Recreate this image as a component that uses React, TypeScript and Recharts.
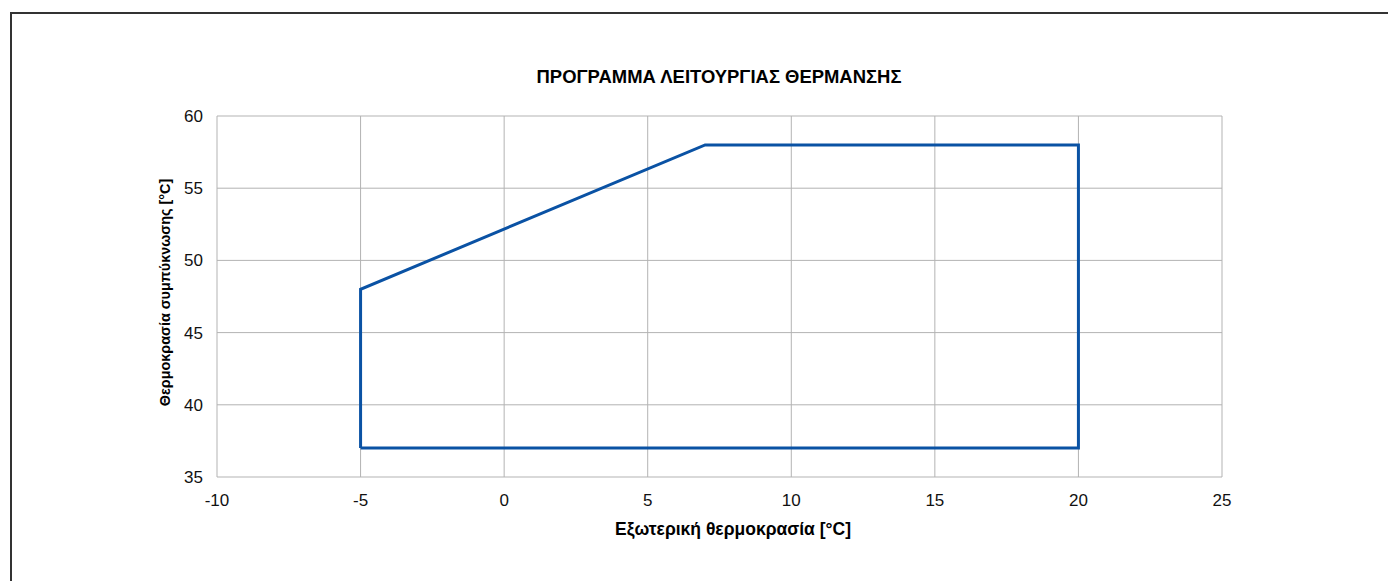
import React from 'react';
import { LineChart, Line, XAxis, YAxis, CartesianGrid } from 'recharts';

// operating envelope (closed polygon)
const outdoorTemp = [-5, -5, 7, 20, 20, -5];
const condensingTemp = [37, 48, 58, 58, 37, 37];

const xTicks = [-10, -5, 0, 5, 10, 15, 20, 25];
const yTicks = [35, 40, 45, 50, 55, 60];

const title = 'ΠΡΟΓΡΑΜΜΑ ΛΕΙΤΟΥΡΓΙΑΣ ΘΕΡΜΑΝΣΗΣ';
const xLabel = 'Εξωτερική θερμοκρασία [°C]';
const yLabel = 'Θερμοκρασία συμπύκνωσης [°C]';

const data = outdoorTemp.map((x, i) => ({ x, y: condensingTemp[i] }));

const W = 1388;
const H = 573;
const font = '"Liberation Sans", Arial, sans-serif';
const tick = { fontSize: 17, fill: '#111', fontFamily: font };

export default function App() {
  return (
    <div style={{ position: 'relative', width: W, height: H, overflow: 'hidden', fontFamily: font }}>
      <div
        style={{
          position: 'absolute',
          left: 2,
          top: 4,
          width: W + 50,
          height: H + 50,
          borderTop: '2px solid #333',
          borderLeft: '2px solid #333',
        }}
      />
      <LineChart
        width={W}
        height={H}
        data={data}
        margin={{ top: 108, right: 174, bottom: 64, left: 0 }}
      >
        <CartesianGrid stroke="#b3b3b3" strokeWidth={1} />
        <XAxis
          type="number"
          dataKey="x"
          domain={[-10, 25]}
          ticks={xTicks}
          axisLine={false}
          tickLine={false}
          tickSize={0}
          tickMargin={17}
          height={40}
          tick={tick}
          interval={0}
        />
        <YAxis
          type="number"
          domain={[35, 60]}
          ticks={yTicks}
          axisLine={false}
          tickLine={false}
          tickSize={0}
          tickMargin={14}
          width={209}
          tick={tick}
          interval={0}
        />
        <Line
          type="linear"
          dataKey="y"
          stroke="#0a52a4"
          strokeWidth={3}
          dot={false}
          activeDot={false}
          isAnimationActive={false}
        />
      </LineChart>
      <svg
        width={W}
        height={H}
        style={{ position: 'absolute', left: 0, top: 0, pointerEvents: 'none' }}
      >
        <text x={711} y={74.7} textAnchor="middle" fontSize={18.45} fontWeight="bold" fill="#000" fontFamily={font}>
          {title}
        </text>
        <text x={725} y={527} textAnchor="middle" fontSize={17.5} fontWeight="bold" fill="#000" fontFamily={font}>
          {xLabel}
        </text>
        <text
          x={0}
          y={0}
          transform="translate(157,284.5) rotate(-90)"
          textAnchor="middle"
          dy="0.35em"
          fontSize={14.4}
          fontWeight="bold"
          fill="#000"
          fontFamily={font}
        >
          {yLabel}
        </text>
      </svg>
    </div>
  );
}
